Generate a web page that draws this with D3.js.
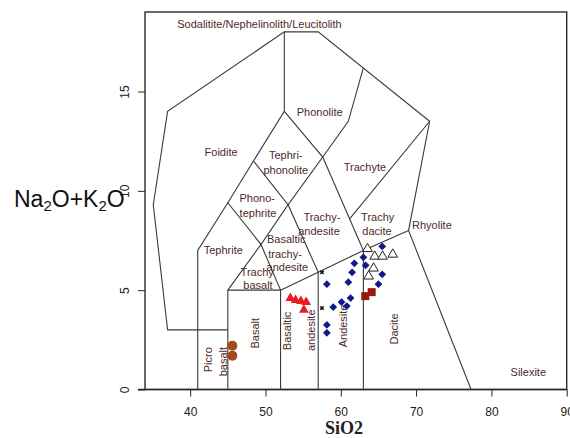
<!DOCTYPE html>
<html><head><meta charset="utf-8">
<script src="https://cdn.jsdelivr.net/npm/d3@7/dist/d3.min.js"></script>
<style>body{margin:0;background:#fff;}svg{display:block;}</style>
</head><body>
<div id="chart"></div>
<script>
// ---- tick labels ----
const xTicks = [40, 50, 60, 70, 80, 90];
const yTicks = [0, 5, 10, 15];

// ---- TAS field boundaries (SiO2, Na2O+K2O) ----
const outerBoundary = [[45,3],[37,3],[35.1,9.3],[37,14],[52.5,18],[57,18],[71.8,13.5],[69,8],[77.3,0]];
const foiditeLine = [[41,0],[41,7],[45,9.4],[48.4,11.5],[52.5,14],[52.5,18]];
const basaltBox = [[45,0],[45,5],[52,5],[52,0]];
const lowerSeries = [[52,5],[57,5.9],[63,7],[69,8]];
const andesiteLeft = [[57,0],[57,5.9]];
const daciteLeft = [[63,0],[63,7]];
const trachybasaltLine = [[45,5],[49.4,7.3],[52,5]];
const phonotephriteLow = [[45,9.4],[49.4,7.3],[53,9.3],[57,5.9]];
const tephriphonoliteLine = [[48.4,11.5],[53,9.3],[57.6,11.7],[52.5,14]];
const trachyteLeft = [[57.6,11.7],[63,7]];
const phonoliteRight = [[57.6,11.7],[61,13.5],[63,16.2]];
const trachydaciteLine = [[61.2,8.6],[71.8,13.5]];
const boundaries = [outerBoundary, foiditeLine, basaltBox, lowerSeries, andesiteLeft, daciteLeft,
  trachybasaltLine, phonotephriteLow, tephriphonoliteLine, trachyteLeft, phonoliteRight, trachydaciteLine];

// ---- samples ----
const brownCircles = [[45.6,2.2],[45.6,1.7]];
const redTriangles = [[53.3,4.6],[54.0,4.5],[54.7,4.45],[55.4,4.4],[55.1,4.0]];
const blueDiamonds = [[58.15,5.3],[59.0,4.15],[60.1,4.4],[60.8,4.2],[61.3,4.6],[61.0,5.4],[61.5,5.9],
  [61.8,6.35],[63.0,6.65],[63.3,6.25],[65.5,7.2],[65.5,5.8],[65.0,5.3],[58.15,3.25],[58.15,2.85]];
const redSquares = [[63.25,4.7],[64.1,4.9]];
const openTriangles = [[63.55,7.08],[64.5,6.7],[65.55,6.7],[66.9,6.8],[64.35,6.1],[63.7,5.7]];
const crosses = [[57.5,5.9],[57.5,4.1]];

// ---- field labels: [text, SiO2, alkali, rotated] ----
const fieldLabels = [
  ["Sodalitite/Nephelinolith/Leucitolith", 49.2, 18.4, false],
  ["Phonolite", 57.2, 13.95, false],
  ["Foidite", 44.1, 11.95, false],
  ["Tephri-", 52.7, 11.8, false],
  ["phonolite", 52.7, 11.05, false],
  ["Trachyte", 63.2, 11.2, false],
  ["Phono-", 48.9, 9.65, false],
  ["tephrite", 49.0, 8.9, false],
  ["Trachy-", 57.5, 8.7, false],
  ["andesite", 57.1, 8.0, false],
  ["Trachy", 64.9, 8.7, false],
  ["dacite", 64.8, 8.0, false],
  ["Rhyolite", 72.1, 8.3, false],
  ["Tephrite", 44.4, 7.0, false],
  ["Basaltic", 52.75, 7.6, false],
  ["trachy-", 52.6, 6.8, false],
  ["andesite", 52.9, 6.15, false],
  ["Trachy", 48.9, 5.9, false],
  ["basalt", 49.0, 5.25, false],
  ["Silexite", 84.9, 0.9, false],
  ["Basalt", 48.6, 2.83, true],
  ["Picro", 42.3, 1.5, true],
  ["basalt", 44.3, 1.4, true],
  ["Basaltic", 52.9, 2.95, true],
  ["andesite", 56.1, 2.98, true],
  ["Andesite", 60.3, 3.2, true],
  ["Dacite", 67.1, 3.05, true]
];

const W = 570, H = 438;
const svg = d3.select("#chart").append("svg").attr("width", W).attr("height", H);
const x = d3.scaleLinear().domain([34, 90]).range([145, 566.7]);
const y = d3.scaleLinear().domain([0, 19]).range([389.5, 12]);

// frame
svg.append("rect").attr("x", x(34)).attr("y", y(19))
  .attr("width", x(90) - x(34)).attr("height", y(0) - y(19))
  .attr("fill", "none").attr("stroke", "#2a2a2a").attr("stroke-width", 1.4);

// axes
const xAxis = svg.append("g").attr("transform", `translate(0,${y(0)})`)
  .call(d3.axisBottom(x).tickValues(xTicks).tickSize(7).tickSizeOuter(0).tickPadding(11));
xAxis.select(".domain").remove();
xAxis.selectAll("text").attr("font-family", "Liberation Sans, Arial, sans-serif").attr("font-size", 12).attr("fill", "#222");
xAxis.selectAll("line").attr("stroke", "#222");
svg.append("line").attr("x1", 138).attr("x2", x(90)).attr("y1", y(0)).attr("y2", y(0))
  .attr("stroke", "#2a2a2a").attr("stroke-width", 1.4);

const yAxis = svg.append("g").attr("transform", `translate(${x(34)},0)`)
  .call(d3.axisLeft(y).tickValues(yTicks).tickSize(7).tickSizeOuter(0).tickFormat(d3.format("d")));
yAxis.select(".domain").remove();
yAxis.selectAll("line").attr("stroke", "#222");
yAxis.selectAll("text")
  .attr("font-family", "Liberation Sans, Arial, sans-serif").attr("font-size", 12).attr("fill", "#222")
  .attr("x", null).attr("dy", null)
  .attr("text-anchor", "middle")
  .attr("transform", "translate(-20,0) rotate(-90)")
  .attr("dominant-baseline", "central");

// boundaries
const line = d3.line().x(d => x(d[0])).y(d => y(d[1]));
svg.append("g").selectAll("path").data(boundaries).join("path")
  .attr("d", line).attr("fill", "none").attr("stroke", "#3a3a3a").attr("stroke-width", 1.1);

// labels
svg.append("g").selectAll("text").data(fieldLabels).join("text")
  .attr("transform", d => `translate(${x(d[1])},${y(d[2])})` + (d[3] ? " rotate(-90)" : ""))
  .attr("text-anchor", "middle").attr("dominant-baseline", "central")
  .attr("font-family", "Liberation Sans, Arial, sans-serif").attr("font-size", 11)
  .attr("fill", "#4e2a2a")
  .text(d => d[0]);

// points
const g = svg.append("g");
g.selectAll(".c").data(brownCircles).join("circle")
  .attr("cx", d => x(d[0])).attr("cy", d => y(d[1])).attr("r", 5).attr("fill", "#a5481c");
const tri = d3.symbol().type(d3.symbolTriangle).size(42);
g.selectAll(".t").data(redTriangles).join("path")
  .attr("d", tri).attr("transform", d => `translate(${x(d[0])},${y(d[1])})`).attr("fill", "#e81c24");
const dia = d3.symbol().type(d3.symbolSquare).size(30);
g.selectAll(".d").data(blueDiamonds).join("path")
  .attr("d", dia).attr("transform", d => `translate(${x(d[0])},${y(d[1])}) rotate(45)`).attr("fill", "#12188a");
g.selectAll(".s").data(redSquares).join("path")
  .attr("d", d3.symbol().type(d3.symbolSquare).size(64))
  .attr("transform", d => `translate(${x(d[0])},${y(d[1])})`).attr("fill", "#98180f");
g.selectAll(".o").data(openTriangles).join("path")
  .attr("d", d3.symbol().type(d3.symbolTriangle).size(40))
  .attr("transform", d => `translate(${x(d[0])},${y(d[1])})`)
  .attr("fill", "#fff").attr("stroke", "#222").attr("stroke-width", 1);
g.selectAll(".x").data(crosses).join("path")
  .attr("d", d3.symbol().type(d3.symbolCross).size(12))
  .attr("transform", d => `translate(${x(d[0])},${y(d[1])}) rotate(45)`).attr("fill", "#111");

// axis titles
svg.append("text").attr("x", 344).attr("y", 434).attr("text-anchor", "middle")
  .attr("font-family", "Liberation Serif, Times New Roman, serif").attr("font-weight", "bold")
  .attr("font-size", 18).attr("fill", "#222").text("SiO2");

const yl = svg.append("text").attr("x", 14).attr("y", 207)
  .attr("font-family", "Liberation Sans, Arial, sans-serif").attr("font-size", 23).attr("fill", "#111");
yl.append("tspan").text("Na");
yl.append("tspan").attr("font-size", 15).attr("dy", 4).text("2");
yl.append("tspan").attr("dy", -4).text("O+K");
yl.append("tspan").attr("font-size", 15).attr("dy", 4).text("2");
yl.append("tspan").attr("dy", -4).text("O");
</script>
</body></html>
